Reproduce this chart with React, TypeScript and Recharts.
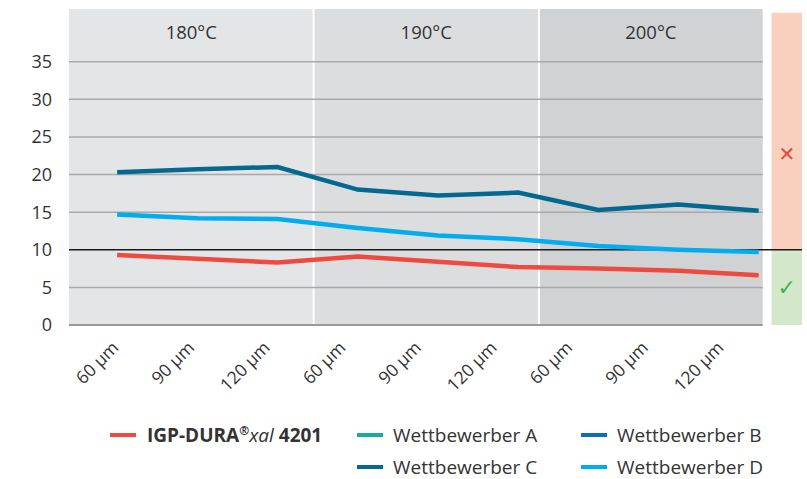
import React from 'react';
import { LineChart, Line, XAxis, YAxis, ReferenceArea, ReferenceLine, Label } from 'recharts';

// x-axis labels (film thickness) and the series
const thickness = ['60 µm', '90 µm', '120 µm', '60 µm', '90 µm', '120 µm', '60 µm', '90 µm', '120 µm'];
const igpDura = [9.3, 8.8, 8.3, 9.1, 8.4, 7.7, 7.5, 7.2, 6.6];
const wettbewerberC = [20.3, 20.7, 21.0, 18.0, 17.2, 17.6, 15.3, 16.0, 15.2];
const wettbewerberD = [14.7, 14.2, 14.1, 12.9, 11.9, 11.4, 10.5, 10.0, 9.7];
const yTicks = [0, 5, 10, 15, 20, 25, 30, 35];
const temperatures = ['180°C', '190°C', '200°C'];
const threshold = 10;

// band edges in category-index units
const bandEdges = [-0.6, 2.45, 5.26, 8.05];
const bandFills = ['#e4e5e7', '#dcdddf', '#d1d2d4'];
const X_DOMAIN: [number, number] = [-0.6, 8.54];
const STATUS_X: [number, number] = [8.16, 8.54];
const Y_MAX = 42;

const data = thickness.map((t, i) => ({
  idx: i,
  thickness: t,
  igp: igpDura[i],
  c: wettbewerberC[i],
  d: wettbewerberD[i],
}));

const legendItems = [
  { key: 'igp', color: '#ef4a3f', col: 0, row: 0 },
  { key: 'a', name: 'Wettbewerber A', color: '#17aba6', col: 1, row: 0 },
  { key: 'b', name: 'Wettbewerber B', color: '#0a6fb5', col: 2, row: 0 },
  { key: 'c', name: 'Wettbewerber C', color: '#036991', col: 1, row: 1 },
  { key: 'd', name: 'Wettbewerber D', color: '#00adee', col: 2, row: 1 },
];

const FONT = '"Open Sans", "Noto Sans", sans-serif';
const TEXT = '#333';

const colX = [110, 357, 581];
const rowY = [435, 467];

const Legend = () => (
  <div style={{ position: 'absolute', left: 0, top: 0, width: 807, height: 479, pointerEvents: 'none' }}>
    {legendItems.map(item => (
      <div
        key={item.key}
        style={{
          position: 'absolute',
          left: colX[item.col],
          top: rowY[item.row] - 13,
          height: 26,
          display: 'flex',
          alignItems: 'center',
          fontFamily: FONT,
          fontSize: 19,
          color: TEXT,
          whiteSpace: 'nowrap',
        }}
      >
        <span style={{ display: 'inline-block', width: 26, height: 4, background: item.color, marginRight: item.key === 'igp' ? 11 : 10 }} />
        {item.key === 'igp' ? (
          <span>
            <b>IGP-DURA</b>
            <sup style={{ fontSize: 12, fontWeight: 700 }}>®</sup>
            <i>xal</i> <b>4201</b>
          </span>
        ) : (
          <span>{item.name}</span>
        )}
      </div>
    ))}
  </div>
);

export default function App() {
  return (
    <div style={{ position: 'absolute', left: 0, top: 0, width: 807, height: 479, background: '#fff' }}>
      <LineChart
        width={807}
        height={479}
        data={data}
        margin={{ top: 9, right: 5, bottom: 94, left: 0 }}
      >
        <XAxis xAxisId="x" type="number" dataKey="idx" domain={X_DOMAIN} hide />
        <XAxis
          xAxisId="labels"
          dataKey="thickness"
          type="category"
          interval={0}
          height={60}
          axisLine={false}
          tickLine={false}
          tickSize={0}
          tickMargin={15}
          padding={{ left: 42, right: 86 }}
          angle={-45}
          textAnchor="end"
          tick={{ fill: TEXT, fontSize: 17.5, fontFamily: FONT }}
        />
        <YAxis
          type="number"
          domain={[0, Y_MAX]}
          ticks={yTicks}
          width={69}
          axisLine={false}
          tickLine={false}
          tickSize={0}
          tickMargin={17}
          tick={{ fill: TEXT, fontSize: 18, fontFamily: FONT }}
        />

        {temperatures.map((t, i) => (
          <ReferenceArea
            key={t}
            xAxisId="x"
            x1={bandEdges[i]}
            x2={bandEdges[i + 1]}
            y1={0}
            y2={Y_MAX}
            fill={bandFills[i]}
            fillOpacity={1}
            stroke="none"
            label={{ value: t, position: 'insideTop', offset: 17, fill: TEXT, fontSize: 18.5, fontFamily: FONT }}
          />
        ))}
        {bandEdges.slice(1, -1).map(e => (
          <ReferenceLine key={e} xAxisId="x" x={e} stroke="#fff" strokeWidth={2} />
        ))}

        <ReferenceArea xAxisId="x" x1={STATUS_X[0]} x2={STATUS_X[1]} y1={threshold} y2={41.5} fill="#f9cfbe" fillOpacity={1} stroke="none">
          <Label value="✕" position="center" dy={23} fill="#e8463d" fontSize={20} fontFamily="DejaVu Sans" />
        </ReferenceArea>
        <ReferenceArea xAxisId="x" x1={STATUS_X[0]} x2={STATUS_X[1]} y1={0} y2={threshold} fill="#d3e7cb" fillOpacity={1} stroke="none">
          <Label value="✓" position="center" fill="#45b04a" fontSize={22} fontFamily="DejaVu Sans" />
        </ReferenceArea>

        {yTicks.filter(v => v !== threshold).map(v => (
          <ReferenceLine
            key={v}
            xAxisId="x"
            segment={[{ x: bandEdges[0], y: v }, { x: bandEdges[3], y: v }]}
            stroke={v === 0 ? '#9a9a9a' : '#a9a9a9'}
            strokeWidth={v === 0 ? 2 : 1.5}
          />
        ))}
        <ReferenceLine xAxisId="x" y={threshold} stroke="#1a1a1a" strokeWidth={1.3} />

        <Line xAxisId="x" type="linear" dataKey="igp" stroke="#ef4a3f" strokeWidth={4.5} dot={false} isAnimationActive={false} />
        <Line xAxisId="x" type="linear" dataKey="d" stroke="#00adee" strokeWidth={4.5} dot={false} isAnimationActive={false} />
        <Line xAxisId="x" type="linear" dataKey="c" stroke="#036991" strokeWidth={4.5} dot={false} isAnimationActive={false} />
      </LineChart>
      <Legend />
    </div>
  );
}
